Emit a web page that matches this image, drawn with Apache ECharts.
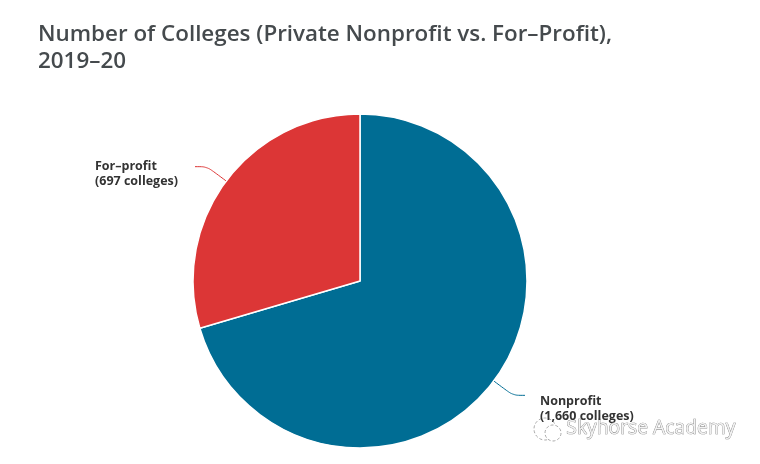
<!DOCTYPE html>
<html>
<head>
<meta charset="utf-8">
<style>html,body{margin:0;padding:0;background:#fff}#main{width:760px;height:464px}</style>
<script src="https://cdn.jsdelivr.net/npm/echarts@6/dist/echarts.min.js"></script>
</head>
<body>
<div id="main"></div>
<script>
const categories = ['Nonprofit', 'For-profit'];
const colleges = [1660, 697];
const labels = ['Nonprofit\n(1,660 colleges)', 'For\u2013profit\n(697 colleges)'];
const colors = ['#006d94', '#dc3636'];

const myChart = echarts.init(document.getElementById('main'));
myChart.setOption({
  animation: false,
  title: {
    text: 'Number of Colleges (Private Nonprofit vs. For\u2013Profit),\n2019\u201320',
    left: 33, top: 16,
    textStyle: { fontFamily: 'Open Sans', fontSize: 22.4, fontWeight: 600, color: '#454a4d', lineHeight: 27 }
  },
  series: [{
    type: 'pie',
    center: [360, 281],
    radius: [0, 167],
    startAngle: 90,
    clockwise: true,
    itemStyle: { borderColor: '#fff', borderWidth: 1.5 },
    label: {
      fontFamily: 'Open Sans', fontSize: 12.5, fontWeight: 700, color: '#333', lineHeight: 15
    },
    labelLine: { length: 24, length2: 12, smooth: 0.3, lineStyle: { width: 1 } },
    labelLayout: function (params) {
      return params.dataIndex === 0
        ? { dx: 10, dy: 14 }
        : { align: 'left', dx: -95, dy: 7 };
    },
    data: categories.map((c, i) => ({
      name: c,
      value: colleges[i],
      label: { formatter: labels[i] },
      itemStyle: { color: colors[i] }
    }))
  }],
  graphic: [
    { type: 'circle', shape: { cx: 545, cy: 429, r: 11 }, style: { fill: '#fff', stroke: '#aaa', lineWidth: 1, lineDash: [3, 2] } },
    { type: 'circle', shape: { cx: 553, cy: 433, r: 8 }, style: { fill: '#fff', stroke: '#aaa', lineWidth: 1, lineDash: [3, 2] } },
    {
      type: 'text', left: 566, top: 419,
      style: { text: 'Skyhorse Academy', fontFamily: 'Open Sans', fontSize: 19.3, fill: '#f2f2f2', stroke: '#777', lineWidth: 0.7 }
    }
  ]
});
</script>
</body>
</html>
